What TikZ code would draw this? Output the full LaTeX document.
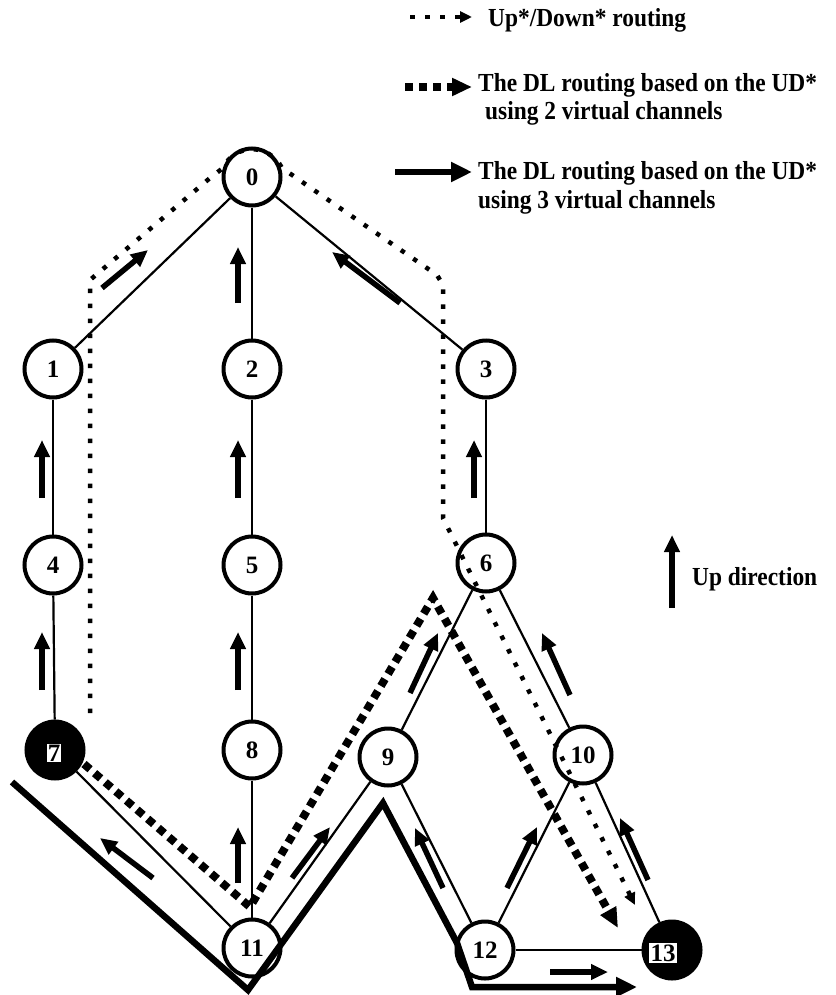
\documentclass[tikz,border=0pt]{standalone}
\usepackage{fontspec}
\usepackage{graphicx}
\setmainfont{Liberation Serif}
\usetikzlibrary{arrows.meta}
\begin{document}
\begin{tikzpicture}[x=1pt,y=-1pt,
  vertex/.style={circle,draw,line width=4pt,minimum size=57pt,inner sep=0pt,
    font=\fontsize{25}{25}\selectfont\bfseries},
  blackvertex/.style={vertex,fill=black},
  numtag/.style={fill=white,inner sep=1.2pt,font=\fontsize{25}{25}\selectfont\bfseries},
  link/.style={line width=2.2pt},
  uparrow/.style={line width=5.5pt,-{Triangle[length=17pt,width=15pt]}},
  udpath/.style={line width=4.5pt,dash pattern=on 4.5pt off 10.5pt,-{Triangle[length=12pt,width=11pt]}},
  dlpath/.style={line width=8pt,dash pattern=on 8pt off 6pt,-{Triangle[length=20pt,width=17pt]}},
  dlthree/.style={line width=6.5pt,-{Triangle[length=21pt,width=19pt]}},
  legendtext/.style={anchor=base west,inner sep=0pt,font=\fontsize{26}{26}\selectfont\bfseries}
]
\useasboundingbox (0,0) rectangle (835,995);

% switches of the network
\node[vertex] (n0) at (252,177) {0};
\node[vertex] (n1) at (53,369) {1};
\node[vertex] (n2) at (252,369) {2};
\node[vertex] (n3) at (486,369) {3};
\node[vertex] (n4) at (53,565) {4};
\node[vertex] (n5) at (252,565) {5};
\node[vertex] (n6) at (486,563) {6};
\node[blackvertex] (n7) at (55,750) {};
\node[numtag] (t7) at (54,753) {7};
\node[vertex] (n8) at (252,750) {8};
\node[vertex] (n9) at (388,757) {9};
\node[vertex] (n10) at (583,755) {10};
\node[vertex] (n11) at (252,948) {11};
\node[vertex] (n12) at (485,950) {12};
\node[blackvertex] (n13) at (672,950) {};
\node[numtag] (t13) at (663,953) {13};

% links
\draw[link] (n0) -- (n1);
\draw[link] (n0) -- (n2);
\draw[link] (n0) -- (n3);
\draw[link] (n1) -- (n4);
\draw[link] (n2) -- (n5);
\draw[link] (n3) -- (n6);
\draw[link] (n4) -- (n7);
\draw[link] (n5) -- (n8);
\draw[link] (n8) -- (n11);
\draw[link] (n7) -- (n11);
\draw[link] (n6) -- (n9);
\draw[link] (n6) -- (n10);
\draw[link] (n9) -- (n11);
\draw[link] (n9) -- (n12);
\draw[link] (n10) -- (n12);
\draw[link] (n10) -- (n13);
\draw[link] (n12) -- (n13);

% up direction of each link
\draw[uparrow] (102,288) -- (148,250);
\draw[uparrow] (238,303) -- (238,247);
\draw[uparrow] (400,303) -- (332,252);
\draw[uparrow] (42,498) -- (42,440);
\draw[uparrow] (238,498) -- (238,440);
\draw[uparrow] (474,498) -- (474,440);
\draw[uparrow] (42,690) -- (42,632);
\draw[uparrow] (238,690) -- (238,632);
\draw[uparrow] (238,883) -- (238,827);
\draw[uparrow] (153,878) -- (100,838);
\draw[uparrow] (292,878) -- (330,827);
\draw[uparrow] (410,693) -- (438,633);
\draw[uparrow] (570,695) -- (542,633);
\draw[uparrow] (443,888) -- (415,828);
\draw[uparrow] (507,888) -- (537,827);
\draw[uparrow] (648,880) -- (620,818);
\draw[uparrow] (550,972) -- (608,972);

% Up*/Down* route
\coordinate (ud0) at (90,713);
\coordinate (ud1) at (90,280);
\coordinate (ud2) at (210,178);
\coordinate (ud3) at (223,168);
\coordinate (ud4) at (282,168);
\coordinate (ud5) at (295,177);
\coordinate (ud6) at (437,275);
\coordinate (ud7) at (443,285);
\coordinate (ud8) at (443,518);
\coordinate (ud9) at (635,905);
\draw[udpath] (ud0) -- (ud1) -- (ud2) -- (ud3)
  .. controls (235,143) and (269,143) .. (ud4) -- (ud5) -- (ud6) -- (ud7) -- (ud8) -- (ud9);

% DL route with two virtual channels
\coordinate (dl0) at (84,764);
\coordinate (dl1) at (250,907);
\coordinate (dl2) at (433,598);
\coordinate (dl3) at (618,928);
\draw[dlpath] (dl0) -- (dl1) -- (dl2) -- (dl3);

% DL route with three virtual channels
\coordinate (dt0) at (12,782);
\coordinate (dt1) at (248,990);
\coordinate (dt2) at (383,803);
\coordinate (dt3) at (457,943);
\coordinate (dt4) at (472,987);
\coordinate (dt5) at (637,987);
\draw[dlthree] (dt0) -- (dt1) -- (dt2) -- (dt3) -- (dt4) -- (dt5);

% legend
\draw[udpath] (410,17) -- (472,17);
\node[legendtext] (lg1) at (488,27) {\scalebox{0.9}[1]{Up*/Down* routing}};
\draw[dlpath] (405,87) -- (472,87);
\node[legendtext] (lg2) at (478,92) {\scalebox{0.9}[1]{The DL routing based on the UD*}};
\node[legendtext] (lg3) at (485,120) {\scalebox{0.9}[1]{using 2 virtual channels}};
\draw[dlthree] (395,172) -- (472,172);
\node[legendtext] (lg4) at (478,180) {\scalebox{0.9}[1]{The DL routing based on the UD*}};
\node[legendtext] (lg5) at (478,208) {\scalebox{0.9}[1]{using 3 virtual channels}};

\draw[uparrow] (672,608) -- (672,535);
\node[legendtext] (lg6) at (692,585) {\scalebox{0.9}[1]{Up direction}};
\end{tikzpicture}
\end{document}
